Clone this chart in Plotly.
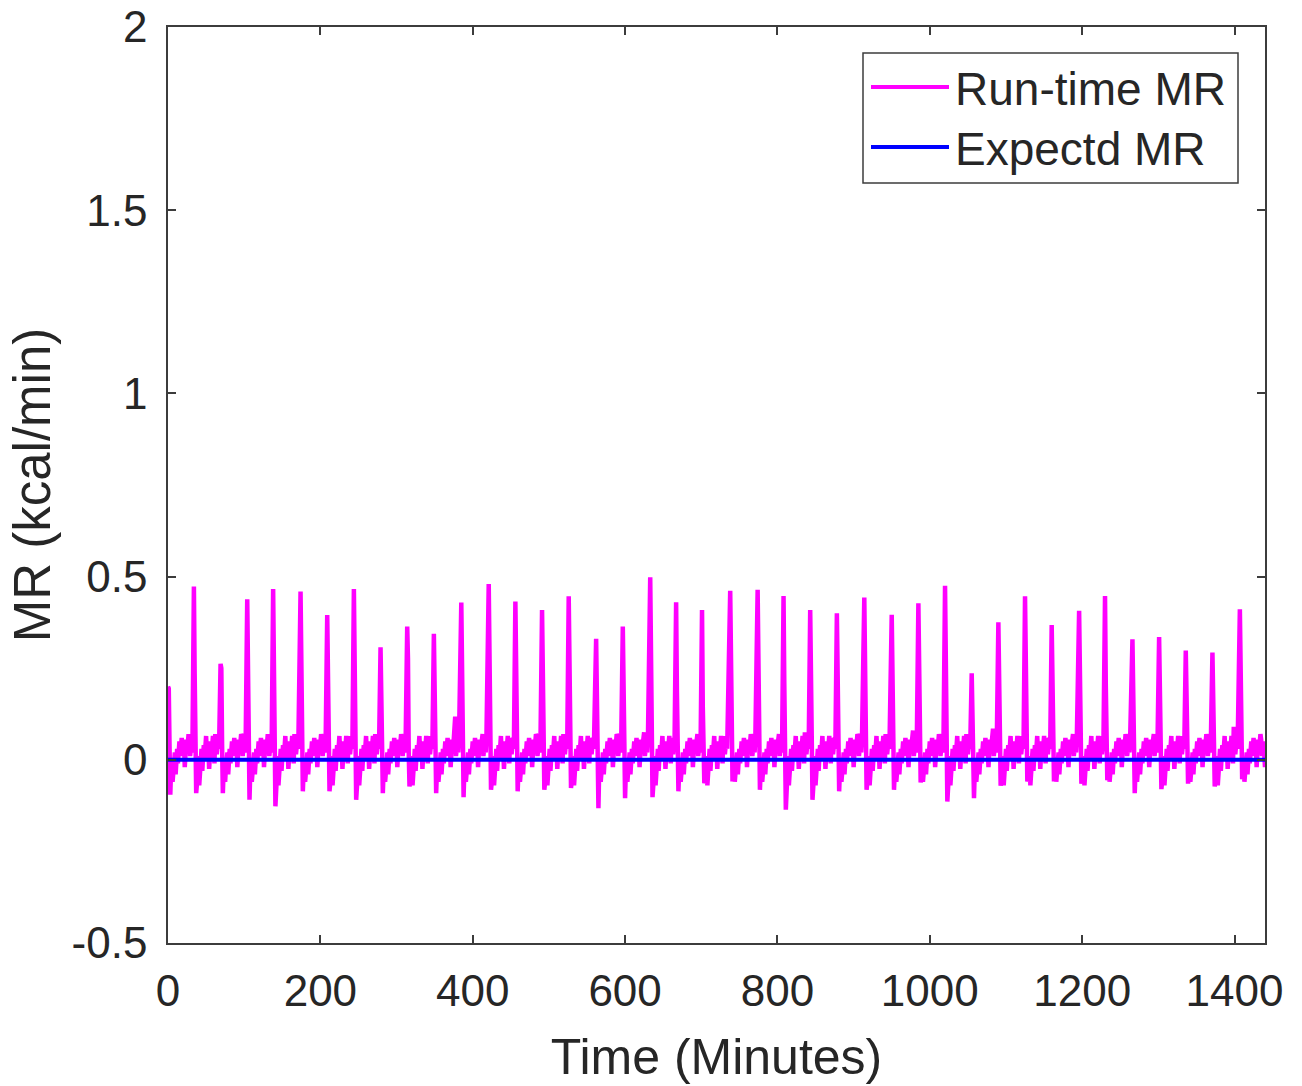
import plotly.graph_objects as go

# Run-time metabolic rate: one activity burst roughly every 35 minutes.
# Each burst: peak value, the sample right after it (shoulder), the dip that
# follows, and the small bump just before the next burst.
SPIKE_TIME = [0, 34, 69, 104, 138, 174, 209, 244, 279, 314, 349, 385, 421, 456,
              491, 526, 562, 597, 633, 667, 701, 738, 774, 808, 843, 878, 914,
              950, 985, 1020, 1055, 1090, 1125, 1160, 1196, 1230, 1266, 1301,
              1336, 1371, 1407]
SPIKE_PEAK = [0.200, 0.473, 0.262, 0.438, 0.466, 0.459, 0.395, 0.466, 0.307,
              0.364, 0.344, 0.429, 0.480, 0.432, 0.409, 0.446, 0.330, 0.364,
              0.498, 0.430, 0.409, 0.461, 0.464, 0.447, 0.409, 0.400, 0.443,
              0.396, 0.427, 0.475, 0.236, 0.375, 0.446, 0.368, 0.407, 0.447,
              0.329, 0.335, 0.298, 0.293, 0.411]
SPIKE_SHOULDER = [0.195, 0.236, 0.250, 0.205, 0.241, 0.186, 0.250, 0.223, 0.136,
                  0.277, 0.145, 0.209, 0.241, 0.255, 0.155, 0.245, 0.200, 0.245,
                  0.268, 0.191, 0.145, 0.191, 0.227, 0.209, 0.200, 0.177, 0.236,
                  0.164, 0.282, 0.191, 0.093, 0.202, 0.245, 0.193, 0.207, 0.207,
                  0.207, 0.189, 0.120, 0.171, 0.180]
POST_DIP = [-0.095, -0.091, -0.091, -0.109, -0.127, -0.086, -0.086, -0.109,
            -0.091, -0.073, -0.091, -0.102, -0.082, -0.086, -0.082, -0.077,
            -0.132, -0.105, -0.102, -0.086, -0.064, -0.059, -0.082, -0.136,
            -0.109, -0.086, -0.082, -0.082, -0.062, -0.114, -0.105, -0.071,
            -0.059, -0.059, -0.065, -0.056, -0.091, -0.080, -0.065, -0.073,
            -0.053]
PRE_BUMP = [0.060, 0.070, 0.065, 0.055, 0.070, 0.060, 0.065, 0.070, 0.060,
            0.065, 0.118, 0.070, 0.060, 0.065, 0.070, 0.060, 0.065, 0.075,
            0.060, 0.070, 0.065, 0.060, 0.070, 0.075, 0.060, 0.065, 0.070,
            0.080, 0.060, 0.070, 0.085, 0.065, 0.060, 0.070, 0.065, 0.060,
            0.070, 0.065, 0.060, 0.090, 0.055]

# Low-level fluctuation between bursts (minutes after a burst, kcal/min);
# two recurring patterns, chosen per burst by RIPPLE_SET.
RIPPLE_A_OFFSET = [2, 4, 5, 6, 7, 9, 10, 12, 13, 15, 16, 18, 19, 21, 22, 24,
                   25, 27, 29, 31, 32, 33]
RIPPLE_A_VALUE = [0.040, -0.030, -0.010, -0.060, -0.020, 0.020, -0.040, 0.030,
                  -0.010, 0.050, 0.010, 0.060, 0.020, 0.045, -0.020, 0.055,
                  0.020, 0.070, 0.010, 0.050, 0.020, 0.060]
RIPPLE_B_OFFSET = [2, 5, 6, 7, 9, 10, 11, 13, 14, 16, 17, 19, 20, 22, 23, 25,
                   26, 27, 29, 30, 32, 33]
RIPPLE_B_VALUE = [0.020, -0.040, 0.010, -0.070, -0.010, 0.030, -0.030, 0.040,
                  0.000, 0.065, 0.020, 0.035, -0.025, 0.050, 0.010, 0.065,
                  0.030, -0.010, 0.040, 0.015, 0.060, 0.030]
RIPPLE_SET = [0, 1, 0, 0, 1, 0, 1, 1, 0, 1, 0, 0, 1, 0, 1, 1, 0, 0, 1, 0, 1,
              0, 0, 1, 1, 0, 1, 0, 0, 1, 0, 1, 1, 0, 1, 0, 0, 1, 0, 1, 0]

END_TIME = 1440
END_VALUE = -0.020

# Expected metabolic rate over the day.
EXPECTED_TIME = [0, 1440]
EXPECTED_MR = [0.0, 0.0]

X_TICKS = [0, 200, 400, 600, 800, 1000, 1200, 1400]
Y_TICKS = [-0.5, 0, 0.5, 1, 1.5, 2]
Y_TICK_TEXT = ["-0.5", "0", "0.5", "1", "1.5", "2"]

RIPPLES = [(RIPPLE_A_OFFSET, RIPPLE_A_VALUE), (RIPPLE_B_OFFSET, RIPPLE_B_VALUE)]

# Assemble the run-time series burst by burst.
run_t, run_v = [], []
for i, t0 in enumerate(SPIKE_TIME):
    t_next = SPIKE_TIME[i + 1] if i + 1 < len(SPIKE_TIME) else END_TIME + 1
    offs, vals = RIPPLES[RIPPLE_SET[i]]
    pts = [(0, SPIKE_PEAK[i]), (1, SPIKE_SHOULDER[i]), (3, POST_DIP[i]),
           (28, PRE_BUMP[i])]
    pts += list(zip(offs, vals))
    for off, val in sorted(pts):
        if t0 + off < t_next - 1 and t0 + off < END_TIME:
            run_t.append(t0 + off)
            run_v.append(val)
run_t.append(END_TIME)
run_v.append(END_VALUE)

FONT = "Liberation Sans, Arial, Helvetica, sans-serif"
INK = "#262626"
AXIS = "#3c3c3c"

W, H = 1302, 1086
L, R, T, B = 168, 37, 27, 143

fig = go.Figure()
fig.add_trace(go.Scatter(x=run_t, y=run_v, mode="lines", name="Run-time MR",
                         line=dict(color="#ff00ff", width=4.5)))
fig.add_trace(go.Scatter(x=EXPECTED_TIME, y=EXPECTED_MR, mode="lines",
                         name="Expectd MR",
                         line=dict(color="#0000ff", width=4)))

axis_common = dict(showline=True, linecolor=AXIS, linewidth=1.5, mirror="ticks",
                   ticks="inside", ticklen=8, tickwidth=1.5, tickcolor=AXIS,
                   showgrid=False, zeroline=False, automargin=False,
                   tickfont=dict(family=FONT, size=44, color=INK))

fig.update_xaxes(range=[0, 1440], tickmode="array", tickvals=X_TICKS,
                 ticklabelstandoff=8,
                 title=dict(text="Time (Minutes)", standoff=25,
                            font=dict(family=FONT, size=50, color=INK)),
                 **axis_common)
fig.update_yaxes(range=[-0.5, 2], tickmode="array", tickvals=Y_TICKS,
                 ticktext=Y_TICK_TEXT, ticklabelstandoff=10,
                 title=dict(text="MR (kcal/min)", standoff=5,
                            font=dict(family=FONT, size=51, color=INK)),
                 **axis_common)

# Legend box drawn in pixel positions converted to paper coordinates.
pw, ph = W - L - R, H - T - B
def px(x):
    return (x - L) / pw
def py(y):
    return (H - B - y) / ph

shapes = [
    dict(type="rect", xref="paper", yref="paper", x0=px(863), x1=px(1238),
         y0=py(183), y1=py(53), line=dict(color=AXIS, width=1.5),
         fillcolor="white", layer="above"),
    dict(type="line", xref="paper", yref="paper", x0=px(871), x1=px(949),
         y0=py(87), y1=py(87), line=dict(color="#ff00ff", width=4),
         layer="above"),
    dict(type="line", xref="paper", yref="paper", x0=px(871), x1=px(949),
         y0=py(147), y1=py(147), line=dict(color="#0000ff", width=4),
         layer="above"),
]
annotations = [
    dict(xref="paper", yref="paper", x=px(953), y=py(89), text="Run-time MR",
         showarrow=False, xanchor="left", yanchor="middle",
         font=dict(family=FONT, size=46, color=INK)),
    dict(xref="paper", yref="paper", x=px(953), y=py(149), text="Expectd MR",
         showarrow=False, xanchor="left", yanchor="middle",
         font=dict(family=FONT, size=46, color=INK)),
]

fig.update_layout(width=W, height=H, autosize=False,
                  margin=dict(l=L, r=R, t=T, b=B, pad=0),
                  paper_bgcolor="white", plot_bgcolor="white",
                  showlegend=False, shapes=shapes, annotations=annotations,
                  font=dict(family=FONT, color=INK))

fig.write_html("out.html")
